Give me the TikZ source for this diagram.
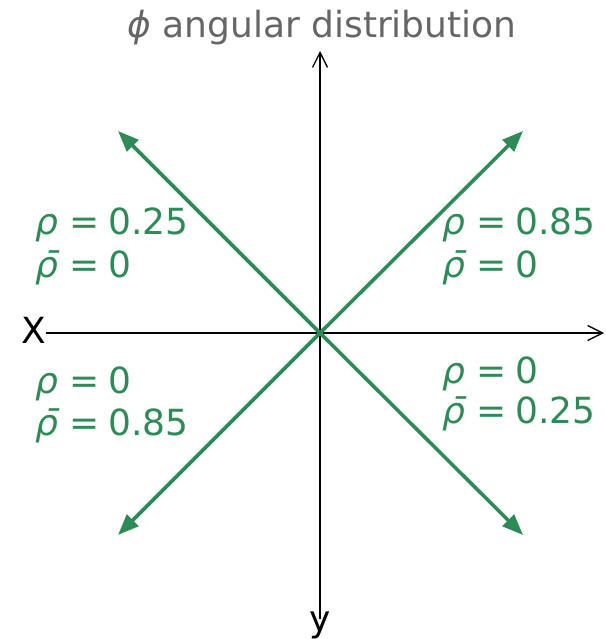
\documentclass[tikz,border=0pt]{standalone}
\usepackage{fontspec}
\setmainfont{DejaVu Sans}
\usetikzlibrary{arrows.meta}
\definecolor{sgreen}{RGB}{46,139,87}
\definecolor{tgray}{RGB}{102,102,102}
\newcommand{\rh}{{\itshape ρ}}
\newcommand{\rhb}{{\itshape\=ρ}}
\newcommand{\eqs}[1]{\rh\hspace{11pt}=\hspace{9pt}#1}
\newcommand{\eqb}[1]{\rhb\hspace{11pt}=\hspace{9pt}#1}
\begin{document}
\begin{tikzpicture}[x=1pt,y=-1pt,
  lbl/.style={anchor=base west,inner sep=0pt,text=sgreen,font=\fontsize{36}{40}\selectfont},
  axlbl/.style={inner sep=0pt,font=\fontsize{36}{40}\selectfont},
  axis/.style={line width=1.3pt,-{Straight Barb[length=15pt,width=15pt,line width=1.3pt]}},
  garrow/.style={draw=sgreen,line width=3.6pt,-{Triangle[length=21pt,width=16pt,fill=sgreen]}}]
\useasboundingbox (0,0) rectangle (605,639);
\node[anchor=base,text=tgray,inner sep=0pt,font=\fontsize{36}{40}\selectfont] (title) at (322,38) {{\itshape ϕ} angular distribution};
\node[axlbl,anchor=base east] (X) at (46,343) {X};
\node[axlbl,anchor=base] (Y) at (320,631) {y};
\coordinate (xend) at (604,333);
\coordinate (yend) at (320,51);
\coordinate (O) at (320,333);
\coordinate (ul) at (118,131);
\coordinate (ur) at (523,131);
\coordinate (ll) at (118,535);
\coordinate (lr) at (523,535);
\draw[axis] (X.east |- O) -- (xend);
\draw[axis] ([yshift=-8pt]Y.north) -- (yend);
\draw[garrow] (O) -- (ul);
\draw[garrow] (O) -- (ur);
\draw[garrow] (O) -- (ll);
\draw[garrow] (O) -- (lr);
\node[lbl] (ula) at (35,234) {\eqs{0.25}};
\node[lbl] (ulb) at (35,277) {\eqb{0}};
\node[lbl] (ura) at (442,234) {\eqs{0.85}};
\node[lbl] (urb) at (442,277) {\eqb{0}};
\node[lbl] (lla) at (35,393) {\eqs{0}};
\node[lbl] (llb) at (35,435) {\eqb{0.85}};
\node[lbl] (lra) at (442,383) {\eqs{0}};
\node[lbl] (lrb) at (442,423) {\eqb{0.25}};
\end{tikzpicture}
\end{document}
